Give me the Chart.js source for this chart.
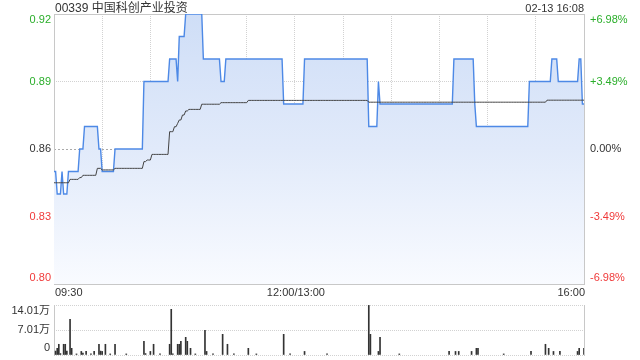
<!DOCTYPE html>
<html>
<head>
<meta charset="utf-8">
<script src="https://cdn.jsdelivr.net/npm/chart.js@4.4.1/dist/chart.umd.min.js"></script>
<style>
  html, body { margin: 0; padding: 0; background: #fff; }
  #wrap { position: relative; width: 640px; height: 360px; overflow: hidden;
          font-family: "Liberation Sans", Arial, "Noto Sans CJK SC", sans-serif; }
  #price { position: absolute; left: 0; top: 0; }
  #vol { position: absolute; left: 0; top: 300px; }
  .txt { position: absolute; color: #333; white-space: nowrap; line-height: 14px; }
</style>
</head>
<body>
<div id="wrap">
  <canvas id="price" width="640" height="300"></canvas>
  <canvas id="vol" width="640" height="60"></canvas>
  <div class="txt" id="title" style="left:55px; top:1px; font-size:12px;"></div>
  <div class="txt" id="stamp" style="right:56px; top:1px; font-size:11px;"></div>
</div>
<script>
// ---- chart data ----
const stockCode = '00339';
const stockName = '中国科创产业投资';
const stampText = '02-13 16:08';
const prevClose = 0.86;
const lastMinute = 330;

const priceTicks = [0.80, 0.83, 0.86, 0.89, 0.92];
const priceTickLabels = ['0.80', '0.83', '0.86', '0.89', '0.92'];
const pctTickLabels = ['-6.98%', '-3.49%', '0.00%', '+3.49%', '+6.98%'];

const timeGrid = [0, 30, 60, 90, 120, 150, 180, 210, 240, 270, 300, 330];
const timeLabelMinutes = [0, 150, 330];
const timeLabels = ['09:30', '12:00/13:00', '16:00'];

// [minute from 09:30, price] - price holds until next entry
const priceRuns = [
  [0, 0.85], [2, 0.84], [5, 0.85], [6, 0.84], [9, 0.85], [16, 0.86], [19, 0.87],
  [28, 0.86], [30, 0.85], [38, 0.86], [56, 0.89], [72, 0.90], [77, 0.89], [78, 0.91],
  [82, 0.92], [93, 0.90], [104, 0.89], [107, 0.90], [143, 0.88], [156, 0.90],
  [196, 0.87], [202, 0.89], [203, 0.88], [249, 0.90], [262, 0.88], [263, 0.87],
  [296, 0.89], [310, 0.90], [314, 0.89], [327, 0.90], [329, 0.88]
];

// [minute, average price]
const avgRuns = [
  [0, 0.8450], [10, 0.8465], [16, 0.8473], [18, 0.8483], [27, 0.8514], [30, 0.8507],
  [38, 0.8514], [56, 0.8544], [58, 0.8551], [61, 0.8576], [72, 0.8677], [75, 0.8699],
  [77, 0.8714], [78, 0.8729], [80, 0.8751], [82, 0.8769], [84, 0.8776], [92, 0.8799],
  [104, 0.8806], [121, 0.8816], [196, 0.8808], [307, 0.8817]
];

const volMinutes = [
  1, 2, 3, 4, 6, 7, 8, 10, 11, 14, 17, 18, 20, 23, 25, 28, 29, 30, 32, 35, 38, 45,
  56, 57, 60, 62, 66, 72, 73, 74, 77, 78, 79, 82, 83, 85, 88, 94, 95, 99, 105, 108,
  112, 121, 126, 143, 147, 156, 170, 196, 197, 202, 203, 215, 246, 250, 252, 260,
  263, 264, 280, 297, 306, 308, 311, 315, 326, 327, 330
];
const volValues = [
  11000, 18700, 30000, 4000, 30000, 30000, 11000, 100000, 18700, 3000, 10000, 5600,
  10000, 3000, 10000, 30000, 11000, 10000, 30000, 3000, 30000, 3000,
  38300, 4000, 10000, 30000, 3000, 30000, 128000, 3000, 30000, 30000, 38300, 49500,
  38300, 18700, 3000, 69000, 10000, 3000, 58000, 30000,
  3000, 18700, 3000, 58000, 3000, 10000, 3000, 139000, 58000, 10000, 49500, 3000,
  10000, 10000, 10000, 10000, 18700, 18700, 3000, 10000, 30000, 18700, 10000, 10000,
  10000, 18700, 18700
];
const volTicks = [0, 70050, 140100];
const volTickLabels = ['0', '7.01万', '14.01万'];

// ---- helpers ----
const FONT = '"Liberation Sans", Arial, "Noto Sans CJK SC", sans-serif';
const GREEN = '#2aae2a';
const RED = '#f03a3a';
const GRID = '#d2d2d2';
const FRAME = '#c8c8c8';

function expandRuns(runs) {
  const out = [];
  let r = 0;
  for (let m = 0; m <= lastMinute; m++) {
    while (r + 1 < runs.length && runs[r + 1][0] <= m) r++;
    out.push({ x: m, y: runs[r][1] });
  }
  return out;
}

document.getElementById('title').textContent = stockCode + ' ' + stockName;
document.getElementById('stamp').textContent = stampText;

Chart.defaults.font.family = FONT;

// ---- price panel ----
const priceDecor = {
  id: 'priceDecor',
  beforeDatasetsDraw(chart) {
    const { ctx, chartArea: a } = chart;
    ctx.save();
    ctx.strokeStyle = FRAME;
    ctx.lineWidth = 1;
    ctx.strokeRect(a.left + 0.5, a.top + 0.5, a.right - a.left, a.bottom - a.top);
    ctx.font = '11px ' + FONT;
    ctx.fillStyle = '#c4c4c4';
    ctx.textAlign = 'right';
    ctx.textBaseline = 'middle';
    ctx.fillText('sina.com', a.right - 11, a.bottom - 6);
    ctx.restore();
  },
  afterDraw(chart) {
    const { ctx, chartArea: a, scales: { x, y } } = chart;
    ctx.save();
    ctx.font = '11px ' + FONT;
    ctx.textBaseline = 'middle';
    priceTicks.forEach((v, i) => {
      let py = y.getPixelForValue(v);
      py = Math.min(Math.max(py, a.top + 6), a.bottom - 6);
      ctx.fillStyle = v > prevClose ? GREEN : (v < prevClose ? RED : '#333');
      ctx.textAlign = 'right';
      ctx.fillText(priceTickLabels[i], a.left - 3, py);
      ctx.textAlign = 'left';
      ctx.fillText(pctTickLabels[i], a.right + 6, py);
    });
    ctx.fillStyle = '#333';
    const n = timeLabels.length - 1;
    timeLabelMinutes.forEach((m, i) => {
      ctx.textAlign = i === 0 ? 'left' : (i === n ? 'right' : 'center');
      ctx.fillText(timeLabels[i], x.getPixelForValue(m) + 1, a.bottom + 9);
    });
    ctx.restore();
  }
};

new Chart(document.getElementById('price'), {
  type: 'line',
  data: {
    datasets: [
      {
        label: 'avg',
        data: expandRuns(avgRuns),
        borderColor: '#444',
        borderWidth: 1,
        pointRadius: 0,
        fill: false
      },
      {
        label: 'price',
        data: expandRuns(priceRuns),
        borderColor: '#4d89e6',
        borderWidth: 1.4,
        pointRadius: 0,
        fill: 'start',
        backgroundColor: (c) => {
          const a = c.chart.chartArea;
          if (!a) return 'rgba(0,0,0,0)';
          const g = c.chart.ctx.createLinearGradient(0, a.top, 0, a.bottom);
          g.addColorStop(0, '#cfdef7');
          g.addColorStop(0.5, '#e1eafa');
          g.addColorStop(1, '#f9fbff');
          return g;
        }
      }
    ]
  },
  options: {
    responsive: false,
    animation: false,
    events: [],
    layout: { padding: { left: 54, right: 56, top: 14, bottom: 16 } },
    plugins: { legend: { display: false }, tooltip: { enabled: false } },
    scales: {
      x: {
        type: 'linear', min: 0, max: lastMinute,
        afterBuildTicks: s => { s.ticks = timeGrid.map(v => ({ value: v })); },
        ticks: { display: false },
        grid: { color: GRID, drawTicks: false },
        border: { display: false, dash: [1, 1] }
      },
      y: {
        type: 'linear', min: 0.80, max: 0.92,
        afterBuildTicks: s => { s.ticks = priceTicks.map(v => ({ value: v })); },
        ticks: { display: false },
        grid: {
          color: c => (c.tick && Math.abs(c.tick.value - prevClose) < 1e-9) ? '#aaaaaa' : GRID,
          drawTicks: false
        },
        border: {
          display: false,
          dash: c => (c.tick && Math.abs(c.tick.value - prevClose) < 1e-9) ? [2, 2] : [1, 1]
        }
      }
    }
  },
  plugins: [priceDecor]
});

// ---- volume panel ----
const volDecor = {
  id: 'volDecor',
  beforeDatasetsDraw(chart) {
    const { ctx, chartArea: a } = chart;
    ctx.save();
    ctx.strokeStyle = FRAME;
    ctx.lineWidth = 1;
    ctx.beginPath();
    ctx.moveTo(a.left + 0.5, a.top);
    ctx.lineTo(a.left + 0.5, a.bottom + 1);
    ctx.moveTo(a.right + 0.5, a.top);
    ctx.lineTo(a.right + 0.5, a.bottom + 1);
    ctx.stroke();
    ctx.restore();
  },
  afterDraw(chart) {
    const { ctx, chartArea: a, scales: { y } } = chart;
    ctx.save();
    ctx.font = '11px ' + FONT;
    ctx.textBaseline = 'middle';
    ctx.textAlign = 'right';
    ctx.fillStyle = '#333';
    volTicks.forEach((v, i) => {
      let py = y.getPixelForValue(v);
      py = Math.min(Math.max(py, a.top + 6), a.bottom - 7);
      ctx.fillText(volTickLabels[i], a.left - 4, py);
    });
    ctx.restore();
  }
};

new Chart(document.getElementById('vol'), {
  type: 'bar',
  data: {
    datasets: [{
      label: 'volume',
      data: volMinutes.map((m, i) => ({ x: m, y: volValues[i] })),
      backgroundColor: '#333',
      borderWidth: 0,
      barThickness: 1
    }]
  },
  options: {
    responsive: false,
    animation: false,
    events: [],
    layout: { padding: { left: 54, right: 56, top: 5, bottom: 5 } },
    plugins: { legend: { display: false }, tooltip: { enabled: false } },
    scales: {
      x: {
        type: 'linear', min: 0, max: lastMinute, offset: false,
        display: false,
        grid: { display: false, offset: false }
      },
      y: {
        type: 'linear', min: 0, max: volTicks[volTicks.length - 1],
        afterBuildTicks: s => { s.ticks = volTicks.map(v => ({ value: v })); },
        ticks: { display: false },
        grid: { color: GRID, drawTicks: false },
        border: { display: false, dash: [1, 1] }
      }
    }
  },
  plugins: [volDecor]
});
</script>
</body>
</html>
